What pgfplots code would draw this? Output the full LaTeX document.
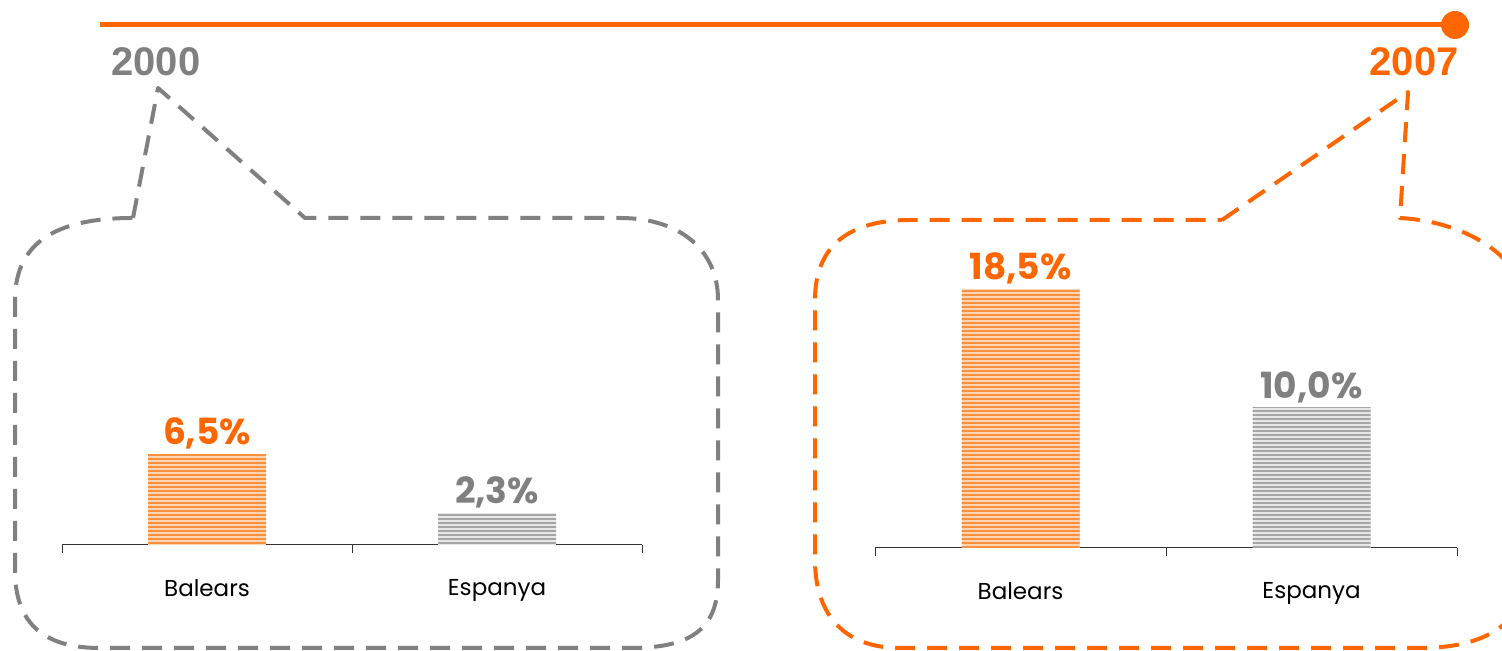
\documentclass[border=0pt]{standalone}
\usepackage{pgfplots}
\pgfplotsset{compat=1.18}
\usepackage{fontspec}
\setmainfont{Poppins}
\newfontfamily\yearfont{Liberation Sans}
\usetikzlibrary{patterns.meta}
\definecolor{orng}{HTML}{FF6600}
\definecolor{gry}{HTML}{808080}
\definecolor{barO}{HTML}{F7913F}
\definecolor{barOl}{HTML}{FFD4B2}
\definecolor{barG}{HTML}{A6A6A6}
\definecolor{barGl}{HTML}{E8E8E8}
\pgfplotsset{bubble/.style={
  width=290pt,height=140pt,scale only axis,
  xmin=-0.5,xmax=1.5,ymin=0,ymax=20,
  axis y line=none, axis x line=bottom,
  x axis line style={-,draw=black!80,line width=0.5pt},
  xtick={0,1}, xticklabels={Balears,Espanya}, major tick length=0pt,
  minor xtick={-0.5,0.5,1.5}, minor tick length=4pt, tick align=outside,
  minor tick style={black!80,line width=0.5pt},
  xticklabel style={font=\fontsize{11.5}{14}\selectfont, yshift=-13.5pt},
  ybar, bar width=59pt, clip=false,
  nodes near coords, point meta=explicit symbolic,
  every node near coord/.append style={font=\fontsize{18}{20}\selectfont\bfseries, yshift=-1pt},
}}
\begin{document}
\begin{tikzpicture}
\useasboundingbox (0pt,0pt) rectangle (751pt,325.5pt);
\clip (0pt,0pt) rectangle (751pt,325.5pt);
\begin{scope}[x=0.5pt,y=-0.5pt,shift={(0pt,325.5pt)}]
  % timeline
  \draw[orng,line width=2.5pt] (100,25) -- (1455,25);
  \fill[orng] (1455,25) circle (7pt);
  \node[text=gry,font=\yearfont\fontsize{20}{22}\selectfont\bfseries] at (156,62) {2000};
  \node[text=orng,font=\yearfont\fontsize{20}{22}\selectfont\bfseries] at (1414,62) {2007};
  % left bubble
  \draw[gry,line width=2pt,dash pattern=on 10pt off 6pt,line join=round]
    (133,218) -- (158,88) -- (305,218) -- (620,218)
    .. controls (680,218) and (718,250) .. (718,300) -- (718,580)
    .. controls (718,630) and (690,648) .. (630,648) -- (100,648)
    .. controls (40,648) and (15,620) .. (15,570) -- (15,300)
    .. controls (15,240) and (60,218) .. (133,218);
  % right bubble
  \draw[orng,line width=2pt,dash pattern=on 10pt off 6pt,line join=round]
    (1222,220) -- (1408,92) -- (1400,218)
    .. controls (1470,222) and (1530,260) .. (1530,320) -- (1530,560)
    .. controls (1530,620) and (1490,648) .. (1420,648) -- (900,648)
    .. controls (840,648) and (815,610) .. (815,560) -- (815,300)
    .. controls (815,245) and (850,220) .. (910,220) -- (1222,220);
\end{scope}
\begin{axis}[bubble, at={(31pt,53pt)}, anchor=south west]
  \addplot[draw=none, fill=barOl, bar shift=0pt,
    postaction={pattern={Lines[angle=0,distance=2pt,line width=0.9pt]}, pattern color=barO},
    every node near coord/.append style={text=orng}]
    coordinates {(0,6.5) [6,5\%]};
  \addplot[draw=none, fill=barGl, bar shift=0pt,
    postaction={pattern={Lines[angle=0,distance=2pt,line width=0.9pt]}, pattern color=barG},
    every node near coord/.append style={text=gry}]
    coordinates {(1,2.3) [2,3\%]};
\end{axis}
\begin{axis}[bubble, at={(437.5pt,51.5pt)}, anchor=south west, width=291pt]
  \addplot[draw=none, fill=barOl, bar shift=0pt,
    postaction={pattern={Lines[angle=0,distance=2pt,line width=0.9pt]}, pattern color=barO},
    every node near coord/.append style={text=orng}]
    coordinates {(0,18.5) [18,5\%]};
  \addplot[draw=none, fill=barGl, bar shift=0pt,
    postaction={pattern={Lines[angle=0,distance=2pt,line width=0.9pt]}, pattern color=barG},
    every node near coord/.append style={text=gry}]
    coordinates {(1,10.0) [10,0\%]};
\end{axis}
\end{tikzpicture}
\end{document}
